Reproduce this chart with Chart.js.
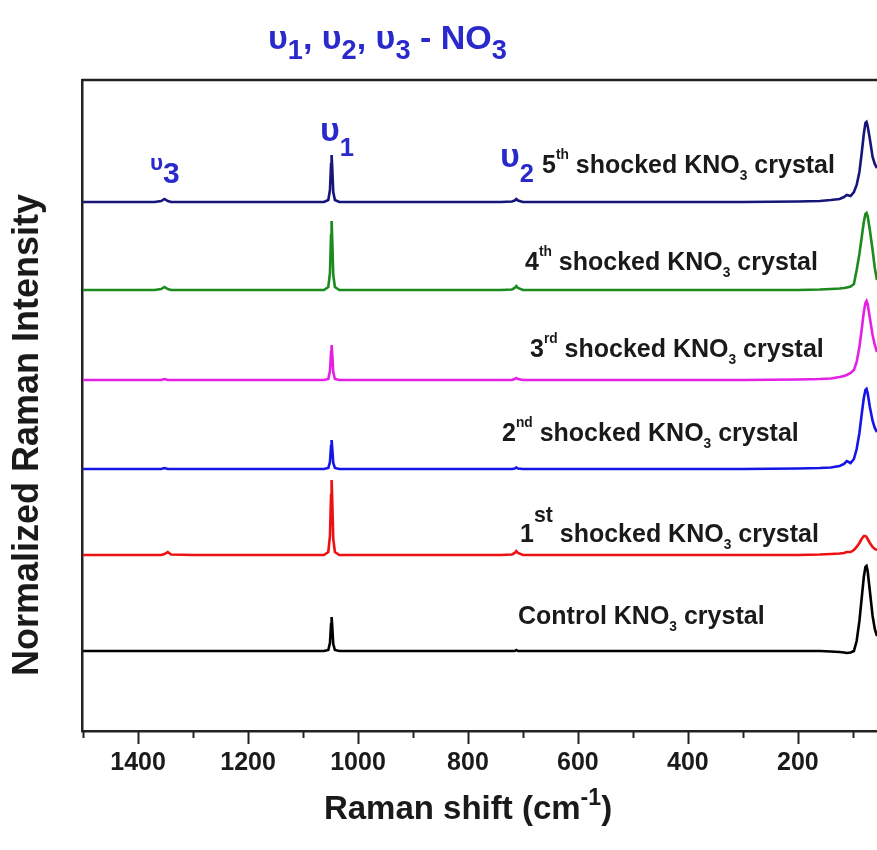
<!DOCTYPE html>
<html>
<head>
<meta charset="utf-8">
<script src="https://cdn.jsdelivr.net/npm/chart.js@4.4.1/dist/chart.umd.min.js"></script>
<style>
  body { margin: 0; background: #fff; }
  canvas { display: block; }
</style>
</head>
<body>
<canvas id="ramanChart" width="877" height="850"></canvas>
<script>
// Raman shift (cm-1), shared by every spectrum
const shift = [1500, 1420, 1370, 1358, 1352, 1346, 1340, 1300, 1200, 1100,
  1062, 1054, 1051, 1049, 1048, 1047, 1045, 1042, 1034,
  1000, 900, 800,
  740, 720, 715, 712, 709, 700,
  600, 500, 400, 300, 200,
  160, 140, 124, 116, 111, 104, 98, 93, 88, 84, 80, 77, 75, 73, 69, 64, 60, 56];

// normalized intensity above each spectrum's own baseline
const control = [0, 0, 0, 0, 0, 0, 0, 0, 0, 0,
  0, 0.01, 0.08, 0.27, 0.34, 0.26, 0.07, 0.01, 0,
  0, 0, 0,
  0, 0, 0, 0.01, 0, 0,
  0, 0, 0, 0, 0,
  0, -0.005, -0.01, -0.015, -0.02, -0.015, 0, 0.10, 0.30, 0.52, 0.74, 0.84, 0.85, 0.80, 0.60, 0.35, 0.22, 0.15];
const shock1 = [0, 0, 0, 0, 0.01, 0.03, 0.005, 0, 0, 0,
  0, 0.03, 0.19, 0.60, 0.75, 0.58, 0.16, 0.03, 0,
  0, 0, 0,
  0, 0.005, 0.02, 0.04, 0.02, 0,
  0, 0, 0, 0, 0,
  0.005, 0.01, 0.015, 0.02, 0.03, 0.03, 0.05, 0.08, 0.12, 0.16, 0.19, 0.19, 0.18, 0.16, 0.12, 0.08, 0.06, 0.05];
const shock2 = [0, 0, 0, 0, 0.01, 0, 0, 0, 0, 0,
  0, 0.01, 0.07, 0.23, 0.29, 0.22, 0.06, 0.01, 0,
  0, 0, 0,
  0, 0, 0.005, 0.015, 0.005, 0,
  0, 0, 0, 0, 0.005,
  0.01, 0.015, 0.03, 0.05, 0.08, 0.06, 0.10, 0.20, 0.36, 0.54, 0.71, 0.79, 0.80, 0.76, 0.62, 0.48, 0.41, 0.37];
const shock3 = [0, 0, 0, 0, 0.01, 0, 0, 0, 0, 0,
  0, 0.01, 0.09, 0.28, 0.35, 0.27, 0.08, 0.01, 0,
  0, 0, 0,
  0, 0, 0.01, 0.02, 0.01, 0,
  0, 0, 0, 0, 0.005,
  0.01, 0.015, 0.03, 0.04, 0.05, 0.07, 0.10, 0.18, 0.33, 0.50, 0.68, 0.77, 0.79, 0.76, 0.62, 0.45, 0.35, 0.28];
const shock4 = [0, 0, 0, 0.01, 0.03, 0.01, 0, 0, 0, 0,
  0, 0.03, 0.17, 0.55, 0.69, 0.53, 0.15, 0.03, 0,
  0, 0, 0,
  0, 0.005, 0.02, 0.04, 0.02, 0,
  0, 0, 0, 0, 0,
  0.005, 0.01, 0.015, 0.02, 0.025, 0.035, 0.06, 0.20, 0.36, 0.52, 0.68, 0.76, 0.77, 0.74, 0.60, 0.40, 0.22, 0.10];
const shock5 = [0, 0, 0, 0.01, 0.03, 0.01, 0, 0, 0, 0,
  0, 0.02, 0.12, 0.38, 0.47, 0.36, 0.10, 0.02, 0,
  0, 0, 0,
  0, 0.005, 0.015, 0.03, 0.015, 0,
  0, 0, 0, 0, 0.005,
  0.01, 0.02, 0.03, 0.05, 0.07, 0.06, 0.10, 0.17, 0.30, 0.48, 0.68, 0.79, 0.80, 0.76, 0.63, 0.45, 0.38, 0.34];

const seriesNames = ['Control KNO3 crystal', '1st shocked KNO3 crystal', '2nd shocked KNO3 crystal',
  '3rd shocked KNO3 crystal', '4th shocked KNO3 crystal', '5th shocked KNO3 crystal'];
const seriesValues = [control, shock1, shock2, shock3, shock4, shock5];
const offsets = [0.80, 1.76, 2.62, 3.51, 4.41, 5.29];
const colors = ['#000000', '#ee1111', '#1515e8', '#e51fe5', '#1c8a1c', '#15157a'];

const tickLabels = [1400, 1200, 1000, 800, 600, 400, 200];
const minorTicks = [1500, 1300, 1100, 900, 700, 500, 300, 100];

const FONT = '"Liberation Sans", Arial, sans-serif';
const blueText = '#2a2acc';
const darkText = '#1a1a1a';

// rich text pieces: s = size factor, dy = vertical shift (in font sizes)
function drawRuns(ctx, x, y, runs, size, color, align) {
  let total = 0;
  for (const r of runs) {
    ctx.font = 'bold ' + (size * (r.s || 1)) + 'px ' + FONT;
    total += ctx.measureText(r.t).width;
  }
  let cx = align === 'center' ? x - total / 2 : x;
  ctx.textBaseline = 'middle';
  ctx.textAlign = 'left';
  for (const r of runs) {
    ctx.font = 'bold ' + (size * (r.s || 1)) + 'px ' + FONT;
    ctx.fillStyle = r.c || color;
    ctx.fillText(r.t, cx, y + (r.dy || 0) * size);
    cx += ctx.measureText(r.t).width;
  }
}

const sup = t => ({t: t, s: 0.55, dy: -0.45});
const sub = t => ({t: t, s: 0.55, dy: 0.4});
const bigSub = t => ({t: t, s: 0.8, dy: 0.35});

const decorations = {
  id: 'decorations',
  afterDraw(chart) {
    const {ctx, chartArea: {left, right, top, bottom}, scales: {x}} = chart;
    ctx.save();

    // frame top line
    ctx.strokeStyle = '#222';
    ctx.lineWidth = 2.5;
    ctx.beginPath();
    ctx.moveTo(left, top);
    ctx.lineTo(right, top);
    ctx.stroke();

    // tick marks
    ctx.lineWidth = 2;
    tickLabels.forEach(v => {
      const px = Math.round(x.getPixelForValue(v)) + 0.5;
      ctx.beginPath(); ctx.moveTo(px, bottom); ctx.lineTo(px, bottom + 13); ctx.stroke();
    });
    minorTicks.forEach(v => {
      const px = Math.round(x.getPixelForValue(v)) + 0.5;
      ctx.beginPath(); ctx.moveTo(px, bottom); ctx.lineTo(px, bottom + 7); ctx.stroke();
    });

    // axis titles
    ctx.save();
    ctx.translate(28, 435);
    ctx.rotate(-Math.PI / 2);
    ctx.font = 'bold 36px ' + FONT;
    ctx.fillStyle = darkText;
    ctx.textAlign = 'center';
    ctx.textBaseline = 'middle';
    ctx.fillText('Normalized Raman Intensity', 0, 0);
    ctx.restore();

    drawRuns(ctx, 468, 810, [{t: 'Raman shift (cm'}, {t: '-1', s: 0.7, dy: -0.35}, {t: ')'}], 33, darkText, 'center');

    // band title
    drawRuns(ctx, 268, 40, [
      {t: 'υ'}, bigSub('1'), {t: ', '}, {t: 'υ'}, bigSub('2'), {t: ', '}, {t: 'υ'}, bigSub('3'),
      {t: ' - NO'}, bigSub('3')
    ], 34, blueText);

    // band markers
    drawRuns(ctx, 150, 164, [{t: 'υ', s: 0.75}, {t: '3', dy: 0.35}], 30, blueText);
    drawRuns(ctx, 320, 132, [{t: 'υ'}, {t: '1', s: 0.75, dy: 0.5}], 34, blueText);
    drawRuns(ctx, 500, 158, [{t: 'υ'}, {t: '2', s: 0.75, dy: 0.5}], 34, blueText);

    // spectrum labels
    const size = 25;
    drawRuns(ctx, 542, 166, [{t: '5'}, sup('th'), {t: ' shocked KNO'}, sub('3'), {t: ' crystal'}], size, darkText);
    drawRuns(ctx, 525, 263, [{t: '4'}, sup('th'), {t: ' shocked KNO'}, sub('3'), {t: ' crystal'}], size, darkText);
    drawRuns(ctx, 530, 350, [{t: '3'}, sup('rd'), {t: ' shocked KNO'}, sub('3'), {t: ' crystal'}], size, darkText);
    drawRuns(ctx, 502, 434, [{t: '2'}, sup('nd'), {t: ' shocked KNO'}, sub('3'), {t: ' crystal'}], size, darkText);
    drawRuns(ctx, 520, 535, [{t: '1'}, {t: 'st', s: 0.85, dy: -0.75}, {t: ' shocked KNO'}, sub('3'), {t: ' crystal'}], size, darkText);
    drawRuns(ctx, 518, 617, [{t: 'Control KNO'}, sub('3'), {t: ' crystal'}], size, darkText);

    ctx.restore();
  }
};

const datasets = seriesValues.map((vals, k) => ({
  label: seriesNames[k],
  data: shift.map((s, i) => ({x: s, y: offsets[k] + vals[i]})),
  borderColor: colors[k],
  backgroundColor: colors[k],
  borderWidth: 2.6,
  pointRadius: 0,
  tension: 0,
  fill: false
}));

const ctx = document.getElementById('ramanChart').getContext('2d');
new Chart(ctx, {
  type: 'line',
  data: { datasets: datasets },
  options: {
    responsive: false,
    animation: false,
    devicePixelRatio: 1,
    layout: { padding: { left: 82, right: 0, top: 80, bottom: 0 } },
    plugins: { legend: { display: false }, tooltip: { enabled: false } },
    scales: {
      x: {
        type: 'linear',
        reverse: true,
        min: 56,
        max: 1502,
        afterBuildTicks: s => { s.ticks = tickLabels.map(v => ({value: v})); },
        afterFit: s => { s.height = 119; },
        grid: { display: true, drawOnChartArea: false, drawTicks: false },
        border: { display: true, color: '#222', width: 2.5 },
        ticks: {
          autoSkip: false,
          maxRotation: 0,
          padding: 17,
          color: darkText,
          font: { family: FONT, size: 25, weight: 'bold' },
          callback: v => String(v)
        }
      },
      y: {
        min: 0,
        max: 6.51,
        afterFit: s => { s.width = 0; },
        grid: { display: true, drawOnChartArea: false, drawTicks: false },
        border: { display: true, color: '#222', width: 2.5 },
        ticks: { display: false }
      }
    }
  },
  plugins: [decorations]
});
</script>
</body>
</html>
